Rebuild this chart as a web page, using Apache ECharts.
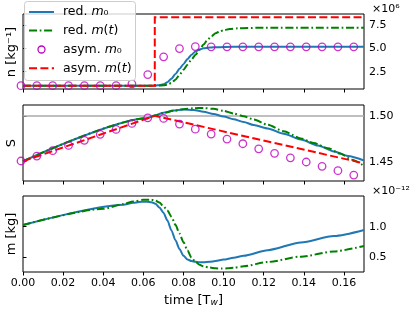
<!DOCTYPE html>
<html><head><meta charset="utf-8">
<script src="https://cdn.jsdelivr.net/npm/echarts@6/dist/echarts.min.js"></script>
<style>html,body{margin:0;padding:0;background:#fff}#c{width:415px;height:310px}</style>
</head><body><div id="c"></div>
<script>
// ---- tick labels ----
const xTicks = [0, 0.02, 0.04, 0.06, 0.08, 0.10, 0.12, 0.14, 0.16];
const nTicks = [2.5, 5.0, 7.5];      // x 1e6 kg^-1
const sTicks = [1.45, 1.50];
const mTicks = [0.5, 1.0];           // x 1e-12 kg

// ---- legend entries ----
const legendNames = ['red. m0', 'red. m(t)', 'asym. m0', 'asym. m(t)'];

// ---- panel 1 : n [kg^-1] (units of 1e6) ----
const tNBlue = [0, 0.064, 0.066, 0.068, 0.070, 0.072, 0.074, 0.076, 0.078, 0.080, 0.082, 0.084, 0.086, 0.088, 0.090, 0.093, 0.097, 0.105, 0.17];
const nBlue  = [1.0, 1.0, 1.02, 1.06, 1.15, 1.38, 1.75, 2.25, 2.8, 3.3, 3.85, 4.3, 4.65, 4.88, 5.0, 5.08, 5.12, 5.15, 5.15];
const tNGreen = [0, 0.066, 0.068, 0.070, 0.072, 0.074, 0.076, 0.078, 0.080, 0.082, 0.084, 0.086, 0.088, 0.090, 0.092, 0.094, 0.096, 0.098, 0.100, 0.103, 0.107, 0.112, 0.12, 0.17];
const nGreen  = [1.0, 1.0, 1.02, 1.05, 1.12, 1.3, 1.65, 2.15, 2.7, 3.25, 3.8, 4.3, 4.85, 5.4, 5.9, 6.3, 6.6, 6.8, 6.93, 7.05, 7.13, 7.17, 7.19, 7.2];
const tNRed = [0, 0.0657, 0.0657, 0.17];
const nRed  = [1.0, 1.0, 8.31, 8.31];

// ---- asymptotic m0 markers (shared times) ----
const tCircle = [-0.001, 0.0069, 0.0148, 0.0227, 0.0306, 0.0385, 0.0464, 0.0543, 0.0622, 0.0701, 0.078, 0.0859, 0.0938, 0.1017, 0.1096, 0.1175, 0.1254, 0.1333, 0.1412, 0.1491, 0.157, 0.1649];
const nCircle = [1.0, 1.0, 1.0, 1.0, 1.0, 1.0, 1.0, 1.2, 2.19, 4.09, 4.97, 5.18, 5.15, 5.15, 5.15, 5.15, 5.15, 5.15, 5.15, 5.15, 5.15, 5.15];
const sCircle = [1.4508, 1.4562, 1.4620, 1.4678, 1.4733, 1.4798, 1.4852, 1.4917, 1.4978, 1.4972, 1.4910, 1.4855, 1.4801, 1.4747, 1.4696, 1.4641, 1.4591, 1.4543, 1.4497, 1.4450, 1.4402, 1.4355];

// ---- panel 2 : S ----
const tSBlue = [0, 0.062, 0.066, 0.070, 0.075, 0.080, 0.085, 0.090, 0.095, 0.100, 0.105, 0.110, 0.115, 0.122, 0.130, 0.1385, 0.147, 0.155, 0.162, 0.17];
const sBlue  = [1.4505, 1.4975, 1.5006, 1.5034, 1.5058, 1.5070, 1.5064, 1.5045, 1.5020, 1.4993, 1.4963, 1.4932, 1.4900, 1.4862, 1.4805, 1.4742, 1.4677, 1.4612, 1.4563, 1.4513];
const tSGreen = [0, 0.062, 0.066, 0.070, 0.075, 0.080, 0.085, 0.090, 0.095, 0.100, 0.105, 0.110, 0.115, 0.122, 0.130, 0.1385, 0.145, 0.152, 0.158, 0.164, 0.17];
const sGreen  = [1.4505, 1.4975, 1.5003, 1.5030, 1.5055, 1.5073, 1.5083, 1.5085, 1.5076, 1.5055, 1.5026, 1.4995, 1.4960, 1.4902, 1.4832, 1.4754, 1.4703, 1.4648, 1.4590, 1.4522, 1.4455];
const tSRed = [0, 0.0657, 0.17];
const sRed  = [1.4505, 1.5000, 1.4483];
const sRef = 1.50;

// ---- panel 3 : m [kg] (units of 1e-12) ----
const tMBlue = [0, 0.050, 0.055, 0.058, 0.060, 0.062, 0.064, 0.066, 0.068, 0.070, 0.072, 0.074, 0.076, 0.078, 0.080, 0.082, 0.084, 0.086, 0.088, 0.090, 0.093, 0.096, 0.100, 0.105, 0.110, 0.122, 0.1385, 0.155, 0.17];
const mBlue  = [1.027, 1.353, 1.385, 1.398, 1.403, 1.402, 1.395, 1.37, 1.31, 1.225, 1.10, 0.94, 0.78, 0.64, 0.53, 0.47, 0.445, 0.433, 0.427, 0.426, 0.432, 0.445, 0.468, 0.497, 0.53, 0.62, 0.745, 0.85, 0.947];
const tMGreen = [0, 0.040, 0.050, 0.055, 0.060, 0.064, 0.066, 0.068, 0.070, 0.072, 0.074, 0.076, 0.078, 0.080, 0.082, 0.084, 0.086, 0.088, 0.090, 0.093, 0.096, 0.099, 0.102, 0.105, 0.110, 0.122, 0.1385, 0.155, 0.17];
const mGreen  = [1.027, 1.288, 1.365, 1.405, 1.434, 1.435, 1.42, 1.39, 1.33, 1.26, 1.16, 1.03, 0.89, 0.75, 0.615, 0.50, 0.43, 0.385, 0.36, 0.34, 0.328, 0.323, 0.327, 0.337, 0.36, 0.43, 0.516, 0.60, 0.689];

const zip = (a, b) => a.map((v, i) => [v, b[i]]);

const C_BLUE = '#1f77b4', C_GREEN = '#008000', C_MAG = '#bf00bf', C_RED = '#ff0000';
const FONT = 'DejaVu Sans';
const DASHDOT = [8, 2.7, 1.7, 2.7];
const DASH = [8, 3.4];

const chart = echarts.init(document.getElementById('c'), null, {renderer: 'canvas'});

const grids = [
  {left: 23, top: 14, width: 341, height: 75},
  {left: 23, top: 105, width: 341, height: 76},
  {left: 23, top: 196, width: 341, height: 76}
].map(g => Object.assign(g, {show: true, borderColor: '#000', borderWidth: 1, backgroundColor: 'transparent', containLabel: false}));

const xAxes = [0, 1, 2].map(i => ({
  type: 'value', gridIndex: i, min: 0, max: 0.17,
  axisLine: {show: false}, splitLine: {show: false},
  axisTick: {show: true, length: 3.5, customValues: xTicks, lineStyle: {color: '#000', width: 1}},
  axisLabel: {show: i === 2, customValues: xTicks, formatter: v => v.toFixed(2), fontSize: 11, color: '#000', fontFamily: FONT, margin: 6},
  name: i === 2 ? '{a|time [T}{b|w}{a|]}' : '',
  nameLocation: 'middle', nameGap: 22,
  nameTextStyle: {rich: {a: {fontSize: 13, fontFamily: FONT, color: '#000'}, b: {fontSize: 9, fontFamily: FONT, fontStyle: 'italic', color: '#000', verticalAlign: 'bottom', lineHeight: 9}}}
}));

function yAx(i, min, max, ticks, dec) {
  return {
    type: 'value', gridIndex: i, position: 'right', min: min, max: max,
    axisLine: {show: false}, splitLine: {show: false},
    axisTick: {show: true, length: 3.5, customValues: ticks, lineStyle: {color: '#000', width: 1}},
    axisLabel: {customValues: ticks, formatter: v => v.toFixed(dec), fontSize: 11, color: '#000', fontFamily: FONT, margin: 5}
  };
}
const yAxes = [
  yAx(0, 0.65, 8.66, nTicks, 1),
  yAx(1, 1.429, 1.5118, sTicks, 2),
  yAx(2, 0.268, 1.495, mTicks, 1)
];

function line(name, xi, t, v, color, type) {
  return {
    name: name, type: 'line', xAxisIndex: xi, yAxisIndex: xi, data: zip(t, v),
    showSymbol: false, symbol: 'none', symbolSize: 0, smooth: 0.25, smoothMonotone: 'x',
    lineStyle: {color: color, width: 2, type: type, cap: 'butt', join: 'miter'}, itemStyle: {color: color},
    emphasis: {disabled: true}, silent: true
  };
}
function circles(xi, t, v) {
  return {
    name: legendNames[2], type: 'scatter', xAxisIndex: xi, yAxisIndex: xi, data: zip(t, v),
    symbol: 'circle', symbolSize: 7.5, clip: false,
    itemStyle: {color: 'rgba(0,0,0,0)', borderColor: C_MAG, borderWidth: 1.3},
    emphasis: {disabled: true}, silent: true, z: 3
  };
}

const series = [
  line(legendNames[0], 0, tNBlue, nBlue, C_BLUE, 'solid'),
  line(legendNames[1], 0, tNGreen, nGreen, C_GREEN, DASHDOT),
  circles(0, tCircle, nCircle),
  Object.assign(line(legendNames[3], 0, tNRed, nRed, C_RED, DASH), {smooth: false}),

  Object.assign(line(legendNames[0], 1, tSBlue, sBlue, C_BLUE, 'solid'), {
    markLine: {silent: true, symbol: 'none', z: 1, label: {show: false},
      lineStyle: {color: '#aaaaaa', width: 1.5, type: 'solid'}, data: [{yAxis: sRef}]}
  }),
  line(legendNames[1], 1, tSGreen, sGreen, C_GREEN, DASHDOT),
  circles(1, tCircle, sCircle),
  Object.assign(line(legendNames[3], 1, tSRed, sRed, C_RED, DASH), {smooth: false}),

  line(legendNames[0], 2, tMBlue, mBlue, C_BLUE, 'solid'),
  line(legendNames[1], 2, tMGreen, mGreen, C_GREEN, DASHDOT)
];

// ---- legend drawn as graphic (box at top-left of figure) ----
const legendRich = {
  t: {font: '12.5px "DejaVu Sans"', fill: '#000'},
  i: {font: 'italic 12.5px "DejaVu Sans"', fill: '#000'}
};
const legendLabel = [
  '{t|red. }{i|m}{t|₀}',
  '{t|red. }{i|m}{t|(}{i|t}{t|)}',
  '{t|asym. }{i|m}{t|₀}',
  '{t|asym. }{i|m}{t|(}{i|t}{t|)}'
];
const legendY = [12, 30.5, 49.5, 68.3];
const legendStyle = [
  {kind: 'line', color: C_BLUE, dash: null},
  {kind: 'line', color: C_GREEN, dash: DASHDOT},
  {kind: 'circle', color: C_MAG},
  {kind: 'line', color: C_RED, dash: DASH}
];
const legendGraphic = [{
  type: 'rect', z: 100, shape: {x: 24.5, y: 1.5, width: 111, height: 79, r: 3},
  style: {fill: 'rgba(255,255,255,0.8)', stroke: '#cccccc', lineWidth: 1}
}];
legendStyle.forEach((s, k) => {
  const y = legendY[k];
  if (s.kind === 'line') {
    legendGraphic.push({type: 'line', z: 101, shape: {x1: 29, y1: y, x2: 54, y2: y},
      style: {stroke: s.color, lineWidth: 2, lineDash: s.dash, lineCap: 'butt'}});
  } else {
    legendGraphic.push({type: 'circle', z: 101, shape: {cx: 41.5, cy: y, r: 3.5},
      style: {fill: 'none', stroke: s.color, lineWidth: 1.3}});
  }
  legendGraphic.push({type: 'text', z: 101, x: 63, y: y,
    style: {text: legendLabel[k], rich: legendRich, font: '12.5px "DejaVu Sans"', fill: '#000', align: 'left', verticalAlign: 'middle'}});
});

chart.setOption({
  animation: false,
  backgroundColor: '#fff',
  textStyle: {fontFamily: FONT},
  grid: grids,
  xAxis: xAxes,
  yAxis: yAxes,
  series: series,
  graphic: [
    {type: 'text', x: 12, y: 52, rotation: Math.PI / 2, style: {text: 'n [kg⁻¹]', font: '13px "DejaVu Sans"', fill: '#000', align: 'center', verticalAlign: 'middle'}},
    {type: 'text', x: 12, y: 143, rotation: Math.PI / 2, style: {text: 'S', font: '13px "DejaVu Sans"', fill: '#000', align: 'center', verticalAlign: 'middle'}},
    {type: 'text', x: 12, y: 234, rotation: Math.PI / 2, style: {text: 'm [kg]', font: '13px "DejaVu Sans"', fill: '#000', align: 'center', verticalAlign: 'middle'}},
    {type: 'text', x: 372, y: 9, style: {text: '×10⁶', font: '11px "DejaVu Sans"', fill: '#000', align: 'left', verticalAlign: 'middle'}},
    {type: 'text', x: 372, y: 191, style: {text: '×10⁻¹²', font: '11px "DejaVu Sans"', fill: '#000', align: 'left', verticalAlign: 'middle'}}
  ].concat(legendGraphic)
});
</script>
</body></html>
